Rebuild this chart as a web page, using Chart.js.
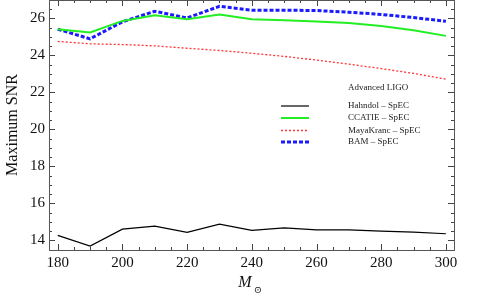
<!DOCTYPE html>
<html><head><meta charset="utf-8">
<script src="https://cdn.jsdelivr.net/npm/chart.js@4"></script>
<style>html,body{margin:0;padding:0;background:#fff}#wrap{width:485px;height:302px}</style>
</head><body><div id="wrap"><canvas id="c" width="485" height="302"></canvas></div>
<script>
const masses = [180,190,200,210,220,230,240,250,260,270,280,290,300];
const hahndol = [14.27,13.69,14.61,14.77,14.43,14.88,14.54,14.68,14.57,14.57,14.50,14.45,14.36];
const ccatie = [25.42,25.24,25.87,26.18,25.96,26.22,25.96,25.91,25.84,25.76,25.60,25.37,25.06];
const mayakranc = [24.76,24.63,24.59,24.52,24.39,24.27,24.12,23.95,23.75,23.53,23.29,23.03,22.72];
const bam = [25.42,24.90,25.82,26.39,26.03,26.66,26.45,26.45,26.43,26.34,26.22,26.05,25.85];
const seriesNames = ["Hahndol \u2013 SpEC","CCATIE \u2013 SpEC","MayaKranc \u2013 SpEC","BAM \u2013 SpEC"];
const xTicks = [180,200,220,240,260,280,300];
const yTicks = [14,16,18,20,22,24,26];
const legendTitle = "Advanced LIGO";

const serif = "'Liberation Serif','DejaVu Serif',serif";

function mk(label, data, color, width, dash){
  return {label, data: masses.map((m,i)=>({x:m,y:data[i]})), borderColor:color, borderWidth:width,
    borderDash:dash, pointRadius:0, fill:false, tension:0, borderCapStyle:'butt'};
}

const ticksPlugin = {
  id:'frameTicks',
  afterDatasetsDraw(chart){
    const {ctx, chartArea:a, scales:{x,y}} = chart;
    ctx.save();
    ctx.strokeStyle = '#444'; ctx.lineWidth = 1;
    ctx.beginPath();
    for(let v=180; v<=300; v+=5){
      const px = Math.round(x.getPixelForValue(v))+0.5;
      const L = (v%20===0)?6:3;
      ctx.moveTo(px,a.bottom); ctx.lineTo(px,a.bottom-L);
      ctx.moveTo(px,a.top); ctx.lineTo(px,a.top+L);
    }
    for(let v=14; v<=27.001; v+=0.5){
      const py = Math.round(y.getPixelForValue(v))+0.5;
      const L = (Math.abs(v%2)<1e-6)?6:3;
      ctx.moveTo(a.left,py); ctx.lineTo(a.left+L,py);
      ctx.moveTo(a.right,py); ctx.lineTo(a.right-L,py);
    }
    ctx.stroke();
    ctx.strokeStyle = '#555';
    ctx.strokeRect(Math.round(a.left)+0.5, Math.round(a.top)+0.5, Math.round(a.right-a.left), Math.round(a.bottom-a.top));
    // legend
    ctx.fillStyle = '#222';
    ctx.font = "9px " + serif;
    ctx.textBaseline = 'middle';
    ctx.textAlign = 'left';
    ctx.fillText(legendTitle, 348, 88);
    const rows = [106,118,130.5,142];
    chart.data.datasets.forEach((ds,i)=>{
      ctx.save();
      ctx.strokeStyle = ds.borderColor; ctx.lineWidth = ds.borderWidth;
      ctx.setLineDash(ds.borderDash||[]);
      ctx.beginPath(); ctx.moveTo(281, rows[i]); ctx.lineTo(309, rows[i]); ctx.stroke();
      ctx.restore();
      ctx.fillStyle = '#222';
      ctx.fillText(seriesNames[i], 348, rows[i]);
    });
    // x axis title
    ctx.fillStyle = '#111';
    ctx.font = "italic 16px " + serif;
    ctx.textAlign = 'center';
    ctx.fillText("M", 245, 283);
    ctx.font = "10px " + serif;
    ctx.fillText("\u2299", 258, 290);
    ctx.restore();
  }
};

new Chart(document.getElementById('c'), {
  type:'line',
  data:{datasets:[
    mk(seriesNames[0], hahndol, '#000000', 1.2, []),
    mk(seriesNames[1], ccatie, '#22ee22', 2, []),
    mk(seriesNames[2], mayakranc, '#ff3333', 1.3, [2,2]),
    mk(seriesNames[3], bam, '#1a1aff', 3, [4,2])
  ]},
  options:{
    responsive:false, animation:false, devicePixelRatio:1,
    layout:{padding:{top:0,right:31,left:0,bottom:0}},
    plugins:{legend:{display:false}, tooltip:{enabled:false}},
    scales:{
      x:{type:'linear', min:177.3, max:302.5,
        afterBuildTicks(s){ s.ticks = xTicks.map(v=>({value:v})); },
        afterFit(s){ s.height = 52; s.paddingLeft = 0; s.paddingRight = 0; },
        grid:{display:false, drawTicks:false}, border:{display:false},
        ticks:{color:'#111', font:{family:serif, size:15}, padding:4, maxRotation:0, autoSkip:false}
      },
      y:{type:'linear', min:13.48, max:27,
        afterBuildTicks(s){ s.ticks = yTicks.map(v=>({value:v})); },
        afterFit(s){ s.width = 49; s.paddingTop = 0; s.paddingBottom = 0; },
        grid:{display:false, drawTicks:false}, border:{display:false},
        ticks:{color:'#111', font:{family:serif, size:15}, padding:4, autoSkip:false},
        title:{display:true, text:'Maximum SNR', color:'#111', font:{family:serif, size:16}, padding:{top:3,bottom:0}}
      }
    }
  },
  plugins:[ticksPlugin]
});
</script></body></html>
